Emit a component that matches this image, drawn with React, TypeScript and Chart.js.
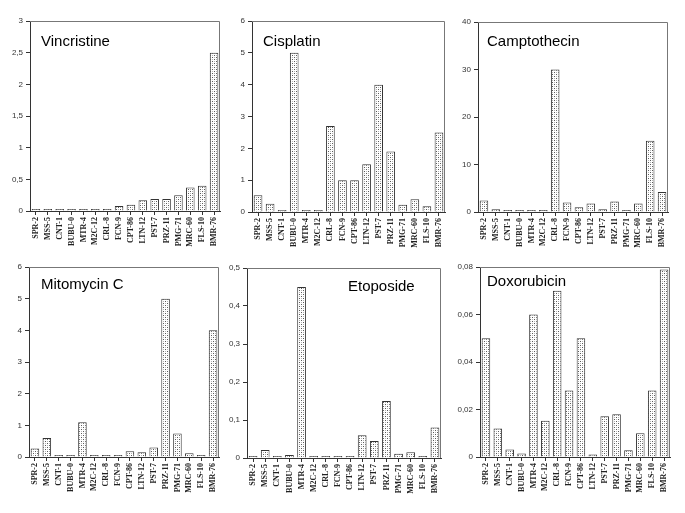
import React, { useEffect, useRef } from "react";
import { Chart, registerables } from "chart.js";

Chart.register(...registerables);

const categories = [
  "SPR-2", "MSS-5", "CNT-1", "BUBU-0", "MTR-4", "M2C-12", "CRL-8", "FCN-9",
  "CPT-86", "LTN-12", "PST-7", "PRZ-11", "PMG-71", "MRC-60", "FLS-10", "BMR-76",
];

const vincristine = [0.01, 0.01, 0.01, 0.01, 0.01, 0.01, 0.01, 0.08, 0.1, 0.17, 0.19, 0.19, 0.25, 0.37, 0.4, 2.5];
const cisplatin = [0.53, 0.26, 0.03, 5.0, 0.05, 0.05, 2.7, 1.0, 1.0, 1.5, 4.0, 1.9, 0.23, 0.4, 0.18, 2.5];
const camptothecin = [2.4, 0.6, 0.2, 0.2, 0.2, 0.2, 30, 2.0, 1.0, 1.8, 0.6, 2.2, 0.4, 1.8, 15, 4.2];
const mitomycinC = [0.27, 0.6, 0.03, 0.06, 1.1, 0.03, 0.06, 0.03, 0.18, 0.15, 0.3, 5.0, 0.74, 0.12, 0.03, 4.0];
const etoposide = [0.003, 0.021, 0.003, 0.008, 0.45, 0.003, 0.005, 0.003, 0.005, 0.06, 0.045, 0.15, 0.011, 0.015, 0.003, 0.08];
const doxorubicin = [0.05, 0.012, 0.0032, 0.0015, 0.06, 0.0153, 0.07, 0.028, 0.05, 0.0011, 0.0172, 0.018, 0.0028, 0.01, 0.028, 0.079];

const titles = ["Vincristine", "Cisplatin", "Camptothecin", "Mitomycin C", "Etoposide", "Doxorubicin"];
const yMax = [3, 6, 40, 6, 0.5, 0.08];
const yStep = [0.5, 1, 10, 1, 0.1, 0.02];

const panels = [
  { data: vincristine, L: 30, T: 21, R: 220, B: 211, tx: 11, ty: 21 },
  { data: cisplatin, L: 252, T: 21, R: 445, B: 212, tx: 11, ty: 21 },
  { data: camptothecin, L: 478, T: 22, R: 668, B: 212, tx: 9, ty: 20 },
  { data: mitomycinC, L: 29, T: 267, R: 219, B: 457, tx: 12, ty: 18 },
  { data: etoposide, L: 247, T: 268, R: 441, B: 458, tx: 101, ty: 19 },
  { data: doxorubicin, L: 480, T: 267, R: 670, B: 457, tx: 7, ty: 15 },
];

const YW = 34;
const PT = 12;
const PR = 6;
const XH = 52;

function makePattern(ctx: CanvasRenderingContext2D) {
  const c = document.createElement("canvas");
  c.width = 4;
  c.height = 4;
  const p = c.getContext("2d")!;
  p.fillStyle = "#ffffff";
  p.fillRect(0, 0, 4, 4);
  p.fillStyle = "#5a5a5a";
  p.fillRect(0, 0, 1, 1);
  p.fillRect(2, 2, 1, 1);
  p.fillStyle = "#b4b4b4";
  p.fillRect(2, 0, 1, 1);
  p.fillRect(0, 2, 1, 1);
  return ctx.createPattern(c, "repeat")!;
}

function fmt(v: number) {
  return String(Number(v.toFixed(4))).replace(".", ",");
}

function Panel({ idx }: { idx: number }) {
  const ref = useRef<HTMLCanvasElement>(null);
  const p = panels[idx];
  const w = p.R - p.L + YW + PR;
  const h = p.B - p.T + PT + XH;
  useEffect(() => {
    const canvas = ref.current!;
    const ctx = canvas.getContext("2d")!;
    const pattern = makePattern(ctx);
    const framePlugin = {
      id: "frame" + idx,
      afterDraw(chart: any) {
        const a = chart.chartArea;
        const c = chart.ctx;
        c.save();
        c.strokeStyle = "#777";
        c.lineWidth = 1;
        c.beginPath();
        c.moveTo(a.left, a.top + 0.5);
        c.lineTo(a.right - 0.5, a.top + 0.5);
        c.lineTo(a.right - 0.5, a.bottom);
        c.stroke();
        c.fillStyle = "#000";
        c.font = "15px Arial, 'Liberation Sans', sans-serif";
        c.textBaseline = "middle";
        c.textAlign = "left";
        c.fillText(titles[idx], a.left + p.tx, a.top + p.ty);
        c.restore();
      },
    };
    const chart = new Chart(canvas, {
      type: "bar",
      data: {
        labels: categories,
        datasets: [
          {
            data: p.data,
            backgroundColor: pattern as any,
            borderColor: "#333",
            borderWidth: 1,
            borderSkipped: "bottom",
            minBarLength: 2,
            barPercentage: 0.72,
            categoryPercentage: 1,
          },
        ],
      },
      options: {
        animation: false,
        responsive: false,
        devicePixelRatio: 1,
        layout: { padding: { top: PT, right: PR, left: 0, bottom: 0 } },
        plugins: { legend: { display: false }, tooltip: { enabled: false }, title: { display: false } },
        scales: {
          x: {
            grid: { display: true, drawOnChartArea: false, offset: false, tickLength: 4, color: "#333" },
            border: { display: true, color: "#333", width: 1 },
            ticks: {
              autoSkip: false,
              minRotation: 90,
              maxRotation: 90,
              padding: 2,
              color: "#222",
              font: { family: "'Liberation Serif', 'DejaVu Serif', serif", size: 8, weight: "bold" },
            },
            afterFit(scale: any) {
              scale.height = XH;
            },
          },
          y: {
            min: 0,
            max: yMax[idx],
            grid: { display: true, drawOnChartArea: false, tickLength: 4, color: "#333" },
            border: { display: true, color: "#333", width: 1 },
            ticks: {
              stepSize: yStep[idx],
              padding: 3,
              color: "#333",
              font: { family: "Arial, 'Liberation Sans', sans-serif", size: 8 },
              callback: (v: any) => fmt(Number(v)),
            },
            afterFit(scale: any) {
              scale.width = YW;
            },
          },
        },
      },
      plugins: [framePlugin],
    });
    return () => chart.destroy();
  }, [idx]);
  return (
    <div style={{ position: "absolute", left: p.L - YW, top: p.T - PT, width: w, height: h }}>
      <canvas ref={ref} width={w} height={h} style={{ width: w, height: h, display: "block" }} />
    </div>
  );
}

export default function App() {
  return (
    <div style={{ position: "fixed", left: 0, top: 0, width: 685, height: 513, background: "#fff", overflow: "hidden" }}>
      {panels.map((_, i) => (
        <Panel key={i} idx={i} />
      ))}
    </div>
  );
}
